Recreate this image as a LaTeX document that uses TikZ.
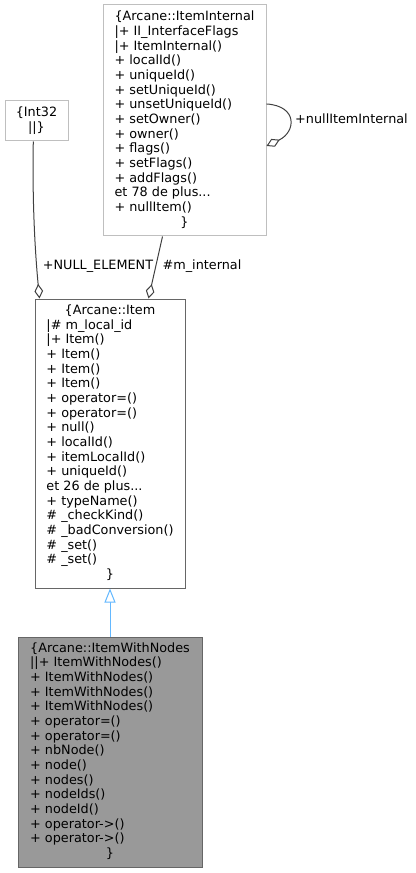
\documentclass[tikz,border=0pt]{standalone}
\usepackage{fontspec}
\setmainfont{DejaVu Sans}
\usetikzlibrary{arrows.meta}
\definecolor{edgegray}{HTML}{404040}
\definecolor{boxlight}{HTML}{BFBFBF}
\definecolor{boxdark}{HTML}{666666}
\definecolor{boxfill}{HTML}{999999}
\definecolor{inhblue}{HTML}{63B8FF}
\newcommand{\ctr}[1]{\multicolumn{1}{@{}c@{}}{#1}}
\begin{document}
\begin{tikzpicture}[x=0.75pt, y=-0.75pt,
  txt/.style={font=\fontsize{9.6pt}{11pt}\selectfont},
  classbox/.style={txt, draw, line width=0.75pt, inner sep=0pt, anchor=center},
  lbl/.style={txt, inner sep=0pt},
  linkedge/.style={draw=edgegray, line width=0.75pt, -{Diamond[fill=white, length=11pt, width=6.5pt, line width=0.75pt]}},
  inhedge/.style={draw=inhblue, line width=0.75pt, -{Triangle[fill=white, length=10.5pt, width=8.25pt, line width=0.75pt]}}]
\useasboundingbox (0,0) rectangle (415,873);

\node[classbox, draw=boxlight, minimum width=47.25pt, minimum height=30pt] (int32) at (36.5,121)
  {\begin{tabular}{@{}c@{}}\{Int32\\ ||\}\end{tabular}};

\node[classbox, draw=boxlight, minimum width=122.25pt, minimum height=173.25pt] (internal) at (184.5,120.5)
  {\begin{tabular}{@{}l@{}}
  \ctr{\{Arcane::ItemInternal}\\
  |+ II\_InterfaceFlags\\
  |+ ItemInternal()\\
  + localId()\\
  + uniqueId()\\
  + setUniqueId()\\
  + unsetUniqueId()\\
  + setOwner()\\
  + owner()\\
  + flags()\\
  + setFlags()\\
  + addFlags()\\
  et 78 de plus...\\
  + nullItem()\\
  \ctr{\}}
  \end{tabular}};

\node[classbox, draw=boxdark, minimum width=112.5pt, minimum height=216.75pt] (item) at (110,443.5)
  {\begin{tabular}{@{}l@{}}
  \ctr{\{Arcane::Item}\\
  |\# m\_local\_id\\
  |+ Item()\\
  + Item()\\
  + Item()\\
  + Item()\\
  + operator=()\\
  + operator=()\\
  + null()\\
  + localId()\\
  + itemLocalId()\\
  + uniqueId()\\
  et 26 de plus...\\
  + typeName()\\
  \# \_checkKind()\\
  \# \_badConversion()\\
  \# \_set()\\
  \# \_set()\\
  \ctr{\}}
  \end{tabular}};

\node[classbox, draw=boxdark, fill=boxfill, minimum width=138pt, minimum height=172.5pt] (iwn) at (110,752)
  {\begin{tabular}{@{}l@{}}
  \ctr{\{Arcane::ItemWithNodes}\\
  ||+ ItemWithNodes()\\
  + ItemWithNodes()\\
  + ItemWithNodes()\\
  + ItemWithNodes()\\
  + operator=()\\
  + operator=()\\
  + nbNode()\\
  + node()\\
  + nodes()\\
  + nodeIds()\\
  + nodeId()\\
  + operator->()\\
  + operator->()\\
  \ctr{\}}
  \end{tabular}};

\draw[linkedge] ([xshift=-2.4pt]int32.south) .. controls (32,210) and (36,262) .. ([xshift=3.75pt]item.north west);
\draw[linkedge] ([xshift=45pt]internal.south west) -- ([xshift=85.5pt]item.north west);
\draw[linkedge] ([yshift=12.4pt]internal.east) .. controls (298,106) and (296,132) .. ([yshift=-19.1pt]internal.east);
\draw[inhedge] (iwn.north) -- (item.south);

\node[lbl] (lnull) at (98,266.5) {+NULL\_ELEMENT};
\node[lbl] (lint) at (202,266.5) {\#m\_internal};
\node[lbl] (lself) at (351.5,119) {+nullItemInternal};
\end{tikzpicture}
\end{document}
